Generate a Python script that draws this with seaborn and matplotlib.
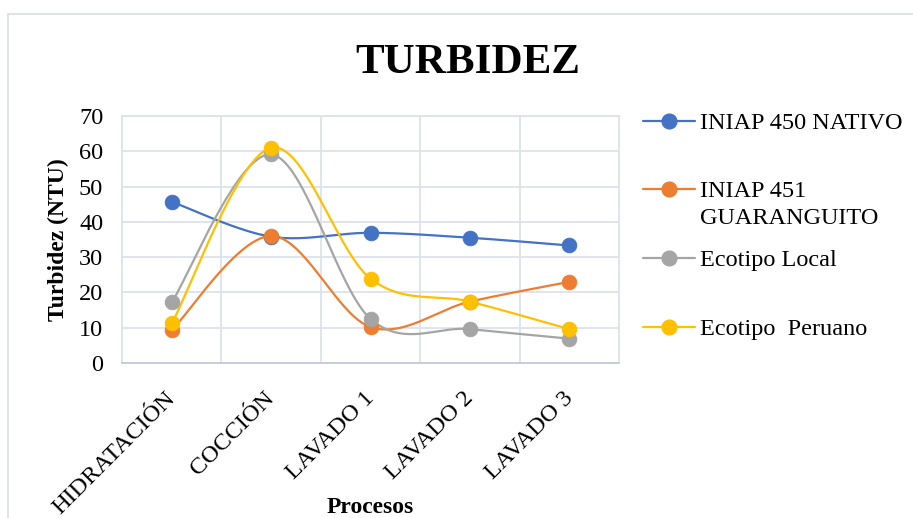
import numpy as np
import pandas as pd
import matplotlib
matplotlib.use("Agg")
import matplotlib.pyplot as plt
import matplotlib.transforms as mtransforms
import seaborn as sns
from matplotlib.lines import Line2D
from matplotlib.patches import Rectangle

# Turbidity (NTU) per process stage for each variety
procesos = ["HIDRATACIÓN", "COCCIÓN", "LAVADO 1", "LAVADO 2", "LAVADO 3"]
iniap_450 = [45.7, 35.8, 36.9, 35.5, 33.3]
iniap_451 = [9.3, 36.0, 10.2, 17.4, 23.0]
ecotipo_local = [17.2, 59.1, 12.5, 9.6, 6.9]
ecotipo_peruano = [11.2, 61.0, 23.9, 17.4, 9.6]

series_names = ["INIAP 450 NATIVO", "INIAP 451 GUARANGUITO", "Ecotipo Local", "Ecotipo  Peruano"]
legend_lines = [["INIAP 450 NATIVO"], ["INIAP 451", "GUARANGUITO"], ["Ecotipo Local"], ["Ecotipo  Peruano"]]
series_values = [iniap_450, iniap_451, ecotipo_local, ecotipo_peruano]
colors = ["#4472C4", "#ED7D31", "#A5A5A5", "#FFC000"]

W, H = 913, 518


def smooth_curve(xs, ys, n=40):
    """Cubic Bezier smoothing through every point (Catmull-Rom style)."""
    pts = np.column_stack([xs, ys]).astype(float)
    out = [pts[0]]
    t = np.linspace(0, 1, n)[1:, None]
    for i in range(len(pts) - 1):
        p0 = pts[i - 1] if i > 0 else pts[i]
        p1, p2 = pts[i], pts[i + 1]
        p3 = pts[i + 2] if i + 2 < len(pts) else pts[i + 1]
        c1 = p1 + (p2 - p0) / 6.0
        c2 = p2 - (p3 - p1) / 6.0
        seg = ((1 - t) ** 3) * p1 + 3 * ((1 - t) ** 2) * t * c1 \
            + 3 * (1 - t) * (t ** 2) * c2 + (t ** 3) * p2
        out.extend(seg)
    return np.array(out)


sns.set_theme(style="white")
plt.rcParams["font.family"] = ["Liberation Serif", "DejaVu Serif"]

fig = plt.figure(figsize=(W / 100, H / 100), dpi=100)
fig.patch.set_facecolor("white")

# chart-area frame
fig.add_artist(Rectangle((8 / W, -0.5), 2.0, 0.5 + 1 - 14 / H,
                         transform=fig.transFigure, fill=False,
                         edgecolor="#d9dde4", linewidth=1.2))

ax = fig.add_axes([122 / W, 1 - 363 / H, 497 / W, 247 / H])

x_idx = np.arange(len(procesos))
for name, vals, col in zip(series_names, series_values, colors):
    curve = smooth_curve(x_idx, vals)
    cdf = pd.DataFrame({"x": curve[:, 0], "y": curve[:, 1]})
    sns.lineplot(data=cdf, x="x", y="y", ax=ax, color=col, linewidth=1.6,
                 sort=False, estimator=None, legend=False, zorder=3)
    pdf = pd.DataFrame({"x": x_idx, "y": vals})
    sns.scatterplot(data=pdf, x="x", y="y", ax=ax, color=col, s=112,
                    edgecolor=col, linewidth=0.6, legend=False, zorder=4)

ax.set_xlim(-0.5, len(procesos) - 0.5)
ax.set_ylim(0, 70)
ax.set_yticks(np.arange(0, 71, 10))
ax.set_xticks(x_idx)
ax.set_xticks(np.arange(0.5, len(procesos) - 1, 1.0), minor=True)
ax.set_xticklabels(procesos, rotation=45, ha="right", va="top",
                   rotation_mode="anchor", fontsize=17.5)
ax.tick_params(axis="x", which="both", length=0, pad=18)
ax.tick_params(axis="y", length=0, pad=13.5, labelsize=17.5)
shift = mtransforms.ScaledTranslation(-7 / 100, 0, fig.dpi_scale_trans)
for lab in ax.get_xticklabels():
    lab.set_color("#000000")
    lab.set_transform(lab.get_transform() + shift)
for lab in ax.get_yticklabels():
    lab.set_color("#000000")

ax.grid(axis="y", which="major", color="#dde2ea", linewidth=1.3)
ax.grid(axis="x", which="minor", color="#dde2ea", linewidth=1.3)
ax.grid(axis="x", which="major", visible=False)
for side in ["top", "right", "left"]:
    ax.spines[side].set_color("#dde2ea")
    ax.spines[side].set_linewidth(1.3)
ax.spines["bottom"].set_color("#c3cbd8")
ax.spines["bottom"].set_linewidth(1.3)
ax.set_xlabel("")
ax.set_ylabel("")

# titles
fig.text(468 / W, 1 - 73 / H, "TURBIDEZ", ha="center", va="baseline",
         fontsize=31, fontweight="bold", color="black")
fig.text(58 / W, 1 - 240 / H, "Turbidez (NTU)", ha="center", va="center",
         rotation=90, fontsize=17, fontweight="bold", color="black")
fig.text(370 / W, 1 - 513 / H, "Procesos", ha="center", va="baseline",
         fontsize=17, fontweight="bold", color="black")

# legend
row_y = [121, 189, 258, 327]
for lines, col, y in zip(legend_lines, colors, row_y):
    fy = 1 - y / H
    fig.add_artist(Line2D([643 / W, 695 / W], [fy, fy], transform=fig.transFigure,
                          color=col, linewidth=1.6))
    fig.add_artist(Line2D([669 / W], [fy], transform=fig.transFigure,
                          marker="o", markersize=10.6, color=col,
                          markeredgecolor=col, linestyle="none"))
    for k, line in enumerate(lines):
        fig.text(700 / W, 1 - (y + 8 + 27 * k) / H, line, ha="left",
                 va="baseline", fontsize=17.5, color="black")

fig.savefig("out.png", dpi=100, facecolor="white")
